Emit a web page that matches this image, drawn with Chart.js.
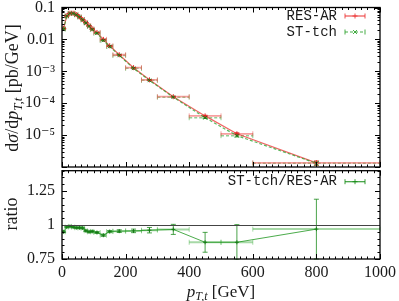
<!DOCTYPE html>
<html><head><meta charset="utf-8">
<script src="https://cdn.jsdelivr.net/npm/chart.js@4"></script>
<style>
html,body{margin:0;padding:0;background:#fff;}
#wrap{position:relative;width:399px;height:301px;overflow:hidden;}
canvas{position:absolute;left:0;}
#c1{top:0;} #c2{top:150px;}
</style></head><body>
<div id="wrap">
<canvas id="c2" width="399" height="151"></canvas>
<canvas id="c1" width="399" height="172"></canvas>
</div>
<script>
// ---- data ----
const binLo     = [0, 10, 20, 30, 40, 50, 60, 70, 80, 90, 100, 120, 140, 160, 200, 250, 300, 400, 500, 600];
const binHi     = [10, 20, 30, 40, 50, 60, 70, 80, 90, 100, 120, 140, 160, 200, 250, 300, 400, 500, 600, 1000];
const binCenter = [5, 15, 25, 35, 45, 55, 65, 75, 85, 95, 110, 130, 150, 180, 225, 275, 350, 450, 550, 800];
const resAR = [0.022, 0.055, 0.066, 0.066, 0.060, 0.051, 0.042, 0.034, 0.027, 0.0215, 0.0165, 0.0100, 0.0063, 0.0033, 0.0013, 5.4e-4, 1.6e-4, 4.0e-5, 1.1e-5, 1.35e-6];
const stTch = [0.0209, 0.0542, 0.0653, 0.0650, 0.0588, 0.0500, 0.0411, 0.0326, 0.0257, 0.0205, 0.0156, 0.00925, 0.0060, 0.00315, 0.00124, 5.2e-4, 1.55e-4, 3.5e-5, 9.6e-6, 1.31e-6];
const topRelErr = [0.004, 0.003, 0.003, 0.003, 0.003, 0.003, 0.003, 0.004, 0.004, 0.004, 0.004, 0.005, 0.006, 0.007, 0.009, 0.014, 0.025, 0.05, 0.09, 0.15];
const ratio    = [0.95, 0.985, 0.99, 0.985, 0.98, 0.98, 0.978, 0.958, 0.95, 0.953, 0.945, 0.925, 0.952, 0.955, 0.957, 0.962, 0.968, 0.873, 0.873, 0.97];
const ratioErr = [0.006, 0.005, 0.005, 0.005, 0.005, 0.005, 0.006, 0.006, 0.006, 0.006, 0.007, 0.008, 0.008, 0.01, 0.013, 0.02, 0.037, 0.073, 0.13, 0.22];
const xTickVals = [0, 200, 400, 600, 800, 1000];
const xTickLabels = ['0', '200', '400', '600', '800', '1000'];
const logTickVals = [1e-5, 1e-4, 1e-3, 0.01, 0.1];
const logTickLabels = ['10\u207B\u2075', '10\u207B\u2074', '10\u207B\u00B3', '0.01', '0.1'];
const ratioTickVals = [0.75, 1, 1.25];
const ratioTickLabels = ['0.75', '1', '1.25'];

const SERIF = '"Liberation Serif", "DejaVu Serif", serif';
const MONO = '"Liberation Mono", "DejaVu Sans Mono", monospace';
const TXT = '#1a1a1a';

function pts(ys) { return binCenter.map((x, i) => ({x: x, y: ys[i]})); }

function line(ctx, x1, y1, x2, y2) { ctx.beginPath(); ctx.moveTo(x1, y1); ctx.lineTo(x2, y2); ctx.stroke(); }

function drawRich(ctx, parts, cx, cy, size, angle) {
  ctx.save();
  ctx.translate(cx, cy); ctx.rotate(angle);
  const f = p => (p.it ? 'italic ' : '') + (p.sub ? Math.round(size * 0.7) : size) + 'px ' + SERIF;
  let w = 0;
  parts.forEach(p => { ctx.font = f(p); w += ctx.measureText(p.t).width; });
  let x = -w / 2;
  ctx.fillStyle = TXT; ctx.textBaseline = 'alphabetic'; ctx.textAlign = 'left';
  parts.forEach(p => {
    ctx.font = f(p);
    const dy = p.sub ? size * 0.22 : 0;
    ctx.fillText(p.t, x, size * 0.33 + dy);
    x += ctx.measureText(p.t).width;
  });
  ctx.restore();
}

// error bars drawn through the chart's scales
const errPlugin = {
  id: 'errbars',
  beforeDatasetsDraw(chart) {
    const ctx = chart.ctx, a = chart.chartArea, xs = chart.scales.x, ys = chart.scales.y;
    ctx.save();
    ctx.beginPath(); ctx.rect(a.left, a.top - 1, a.right - a.left + 1, a.bottom - a.top + 2); ctx.clip();
    chart.data.datasets.forEach(ds => {
      const e = ds.eb; if (!e) return;
      ds.data.forEach((p, i) => {
        const py = ys.getPixelForValue(p.y);
        const x1 = xs.getPixelForValue(binLo[i]), x2 = xs.getPixelForValue(binHi[i]);
        const px = xs.getPixelForValue(p.x);
        ctx.strokeStyle = e.hColor; ctx.lineWidth = e.hWidth; ctx.setLineDash(e.dash || []);
        line(ctx, x1, py, x2, py);
        ctx.setLineDash([]);
        ctx.lineWidth = 1;
        line(ctx, x1, py - 2.5, x1, py + 2.5);
        line(ctx, x2, py - 2.5, x2, py + 2.5);
        const err = e.abs ? e.err[i] : e.err[i] * p.y;
        const yt = ys.getPixelForValue(p.y + err), yb = ys.getPixelForValue(Math.max(p.y - err, 1e-9));
        ctx.strokeStyle = e.vColor;
        line(ctx, px, yt, px, yb);
        line(ctx, px - 2.5, yt, px + 2.5, yt);
        line(ctx, px - 2.5, yb, px + 2.5, yb);
      });
    });
    ctx.restore();
  }
};

function frameAndTicks(chart, isLog, refLine) {
  const ctx = chart.ctx, a = chart.chartArea, xs = chart.scales.x, ys = chart.scales.y;
  ctx.save();
  ctx.strokeStyle = '#000'; ctx.lineWidth = 1;
  for (let v = 0; v <= 1000; v += 20) {
    const px = Math.round(xs.getPixelForValue(v)) + 0.5;
    const L = (v % 200 === 0) ? 5 : 2.5;
    line(ctx, px, a.top, px, a.top + L);
    line(ctx, px, a.bottom, px, a.bottom - L);
  }
  const yt = [];
  if (isLog) {
    for (let d = -6; d <= -2; d++) for (let m = 1; m <= 9; m++) yt.push([m * Math.pow(10, d), m === 1]);
    yt.push([0.1, true]);
  } else {
    for (let k = 0; k <= 13; k++) { const v = 0.75 + k * 0.05; yt.push([v, k % 5 === 0]); }
  }
  yt.forEach(([v, maj]) => {
    const py = Math.round(ys.getPixelForValue(v)) + 0.5;
    if (py < a.top - 0.5 || py > a.bottom + 0.5) return;
    const L = maj ? 5 : 2.5;
    line(ctx, a.left, py, a.left + L, py);
    line(ctx, a.right, py, a.right - L, py);
  });
  if (refLine) {
    const py = Math.round(ys.getPixelForValue(1)) + 0.5;
    ctx.strokeStyle = '#444'; ctx.lineWidth = 1.2;
    line(ctx, a.left, py, a.right, py);
  }
  ctx.strokeStyle = '#000'; ctx.lineWidth = 1.3;
  ctx.strokeRect(a.left, a.top, a.right - a.left, a.bottom - a.top);
  ctx.restore();
}

function legendEntry(ctx, label, y, col, dash, marker) {
  ctx.save();
  ctx.font = '14px ' + MONO; ctx.fillStyle = TXT; ctx.textAlign = 'right'; ctx.textBaseline = 'middle';
  ctx.fillText(label, 337, y);
  ctx.strokeStyle = col; ctx.lineWidth = 1.2; ctx.setLineDash(dash);
  line(ctx, 345, y, 365, y);
  ctx.setLineDash([]); ctx.lineWidth = 1;
  line(ctx, 345, y - 2.5, 345, y + 2.5); line(ctx, 365, y - 2.5, 365, y + 2.5);
  if (marker === '+') { line(ctx, 352.5, y, 357.5, y); line(ctx, 355, y - 2.5, 355, y + 2.5); }
  else if (marker === 'x') { line(ctx, 353, y - 2, 357, y + 2); line(ctx, 353, y + 2, 357, y - 2); }
  ctx.restore();
}

const topDecor = {
  id: 'topDecor',
  afterDraw(chart) {
    frameAndTicks(chart, true, false);
    const ctx = chart.ctx;
    drawRich(ctx, [{t: 'd'}, {t: 'σ', it: 1}, {t: '/d'}, {t: 'p', it: 1}, {t: 'T,t', it: 1, sub: 1}, {t: ' [pb/GeV]'}], 12, 88, 18, -Math.PI / 2);
    legendEntry(ctx, 'RES-AR', 16, 'rgba(235,50,50,0.85)', [], '+');
    legendEntry(ctx, 'ST-tch', 32, 'rgba(40,160,40,0.85)', [3, 2], 'x');
  }
};

const botDecor = {
  id: 'botDecor',
  afterDraw(chart) {
    frameAndTicks(chart, false, true);
    const ctx = chart.ctx;
    drawRich(ctx, [{t: 'ratio'}], 11, 64, 18, -Math.PI / 2);
    drawRich(ctx, [{t: 'p', it: 1}, {t: 'T,t', it: 1, sub: 1}, {t: ' [GeV]'}], 221, 141, 17, 0);
    legendEntry(ctx, 'ST-tch/RES-AR', 31.7, 'rgba(20,140,20,0.85)', [], '+');
  }
};

const commonPlug = {legend: {display: false}, tooltip: {enabled: false}};

new Chart(document.getElementById('c1'), {
  type: 'line',
  data: {datasets: [
    {label: 'ST-tch', data: pts(stTch), borderColor: 'rgba(40,160,40,0.75)', borderWidth: 1.2, borderDash: [3, 2],
     pointStyle: 'crossRot', pointRadius: 2.5, pointBorderColor: 'rgba(20,120,20,0.95)', pointBorderWidth: 1,
     tension: 0, fill: false,
     eb: {hColor: 'rgba(60,170,60,0.55)', hWidth: 1.5, dash: [3, 2], vColor: 'rgba(40,150,40,0.8)', err: topRelErr}},
    {label: 'RES-AR', data: pts(resAR), borderColor: 'rgba(235,50,50,0.75)', borderWidth: 1.2,
     pointStyle: 'cross', pointRadius: 2.5, pointBorderColor: 'rgba(220,30,30,0.95)', pointBorderWidth: 1,
     tension: 0, fill: false,
     eb: {hColor: 'rgba(240,80,80,0.55)', hWidth: 1.8, vColor: 'rgba(230,60,60,0.8)', err: topRelErr}}
  ]},
  options: {
    responsive: false, animation: false, devicePixelRatio: 1,
    layout: {padding: {left: 0, right: 19, top: 7.5, bottom: 1.3}},
    plugins: commonPlug,
    scales: {
      x: {type: 'linear', min: 0, max: 1000, display: false},
      y: {type: 'logarithmic', min: 1e-6, max: 0.1,
          afterFit: s => { s.width = 62; s.paddingTop = 0; s.paddingBottom = 0; },
          afterBuildTicks: s => { s.ticks = logTickVals.map(v => ({value: v})); },
          ticks: {callback: v => { const i = logTickVals.findIndex(t => Math.abs(t - v) / t < 1e-6); return i >= 0 ? logTickLabels[i] : ''; },
                  font: {family: SERIF, size: 16}, color: TXT, padding: 7, autoSkip: false},
          grid: {display: false, drawTicks: false}, border: {display: false}}
    }
  },
  plugins: [errPlugin, topDecor]
});

new Chart(document.getElementById('c2'), {
  type: 'line',
  data: {datasets: [
    {label: 'ST-tch/RES-AR', data: pts(ratio), borderColor: 'rgba(30,150,30,0.8)', borderWidth: 1,
     pointStyle: 'cross', pointRadius: 2, pointBorderColor: 'rgba(20,120,20,0.9)', pointBorderWidth: 1,
     tension: 0, fill: false,
     eb: {hColor: 'rgba(60,170,60,0.45)', hWidth: 2, vColor: 'rgba(30,140,30,0.8)', err: ratioErr, abs: true}}
  ]},
  options: {
    responsive: false, animation: false, devicePixelRatio: 1,
    layout: {padding: {left: 0, right: 19, top: 20.7, bottom: 0}},
    plugins: commonPlug,
    scales: {
      x: {type: 'linear', min: 0, max: 1000,
          afterFit: s => { s.height = 42; s.paddingLeft = 0; s.paddingRight = 0; },
          afterBuildTicks: s => { s.ticks = xTickVals.map(v => ({value: v})); },
          ticks: {callback: v => { const i = xTickVals.indexOf(v); return i >= 0 ? xTickLabels[i] : ''; },
                  font: {family: SERIF, size: 16}, color: TXT, padding: 4, maxRotation: 0, autoSkip: false},
          grid: {display: false, drawTicks: false}, border: {display: false}},
      y: {type: 'linear', min: 0.75, max: 1.4,
          afterFit: s => { s.width = 62; s.paddingTop = 0; s.paddingBottom = 0; },
          afterBuildTicks: s => { s.ticks = ratioTickVals.map(v => ({value: v})); },
          ticks: {callback: v => { const i = ratioTickVals.indexOf(v); return i >= 0 ? ratioTickLabels[i] : ''; },
                  font: {family: SERIF, size: 16}, color: TXT, padding: 7, autoSkip: false},
          grid: {display: false, drawTicks: false}, border: {display: false}}
    }
  },
  plugins: [errPlugin, botDecor]
});
</script>
</body></html>
